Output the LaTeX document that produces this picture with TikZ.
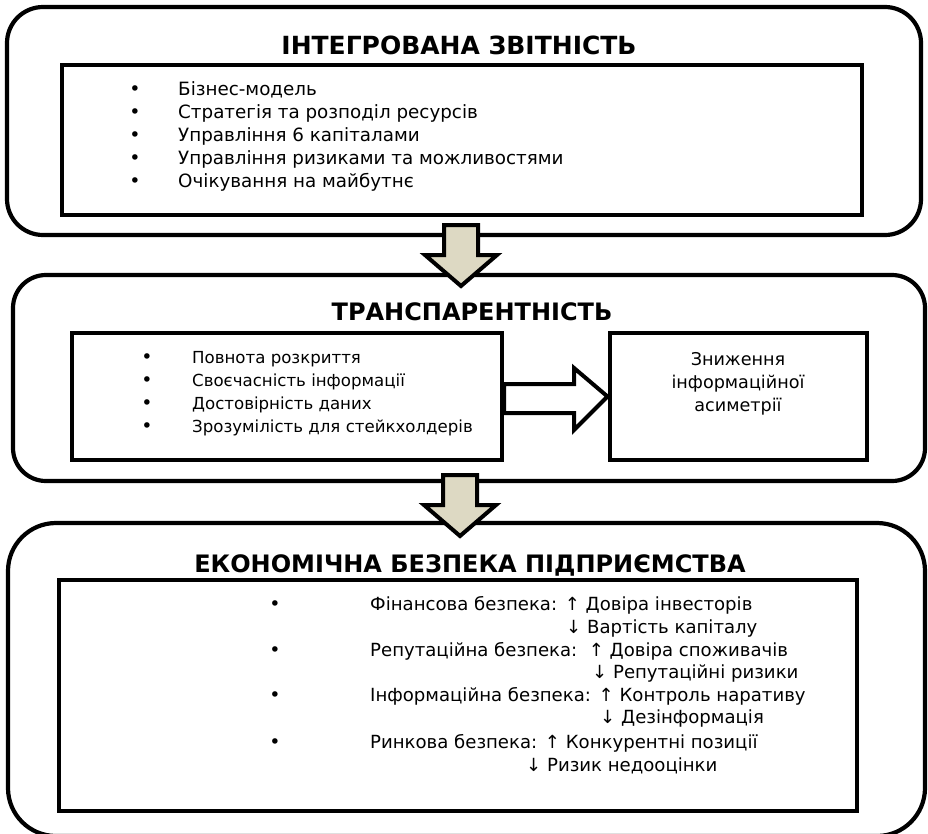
\documentclass[tikz,border=0pt]{standalone}
\usepackage{fontspec}
\setmainfont{DejaVu Sans}
\usetikzlibrary{calc}
\definecolor{arrowfill}{HTML}{DDD9C3}
\begin{document}
\begin{tikzpicture}[x=1pt,y=-1pt,
  outerbox/.style={draw=black,line width=4.2pt,fill=white},
  innerbox/.style={draw=black,line width=4pt,fill=white},
  blockarrow/.style={draw=black,line width=4pt,fill=arrowfill,line join=miter,miter limit=10},
  sidearrow/.style={draw=black,line width=4pt,fill=white,line join=miter,miter limit=10},
  ttl/.style={font=\fontsize{24}{28}\selectfont\bfseries,anchor=base,inner sep=0pt},
  txta/.style={font=\fontsize{18.3}{22}\selectfont,anchor=base west,inner sep=0pt},
  txtb/.style={font=\fontsize{16.6}{20}\selectfont,anchor=base west,inner sep=0pt},
  ctxt/.style={font=\fontsize{17.6}{21}\selectfont,anchor=base,inner sep=0pt},
  txtc/.style={font=\fontsize{18.1}{21}\selectfont,anchor=base west,inner sep=0pt},
  bul/.style={font=\fontsize{19}{22}\selectfont,anchor=base,inner sep=0pt}]
\useasboundingbox (0,0) rectangle (928,833);
\begin{scope}
\clip (0,0) rectangle (928,833);
% outer boxes
\draw[outerbox,rounded corners=36pt] (7,7) rectangle (921,235);
\draw[outerbox,rounded corners=33pt] (13,275) rectangle (925,481);
\draw[outerbox,rounded corners=48pt] (8,523) rectangle (925,836);
% inner boxes
\node[innerbox,minimum width=800pt,minimum height=150pt,inner sep=0pt] (ib1) at (462,140) {};
\node[innerbox,minimum width=430pt,minimum height=127pt,inner sep=0pt] (ib2l) at (287,396) {};
\node[innerbox,minimum width=257pt,minimum height=127pt,inner sep=0pt] (ib2r) at (738,396.5) {};
\node[innerbox,minimum width=798pt,minimum height=231pt,inner sep=0pt] (ib3) at (458,695) {};
\end{scope}
% titles
\node[ttl,font=\fontsize{25}{29}\selectfont\bfseries] (t1) at (459,54) {ІНТЕГРОВАНА ЗВІТНІСТЬ};
\node[ttl] (t2) at (472,320) {ТРАНСПАРЕНТНІСТЬ};
\node[ttl] (t3) at (470,572) {ЕКОНОМІЧНА БЕЗПЕКА ПІДПРИЄМСТВА};
% box 1 list
\foreach \y/\t [count=\i] in {95/Бізнес-модель,118/Стратегія та розподіл ресурсів,141/Управління 6 капіталами,164/Управління ризиками та можливостями,187/Очікування на майбутнє}{
  \node[bul] (b1\i) at (135,\y) {•};
  \node[txta] (l1\i) at (178,\y) {\t};
}
% box 2 left list
\foreach \y/\t [count=\i] in {363/Повнота розкриття,386/Своєчасність інформації,409/Достовірність даних,432/Зрозумілість для стейкхолдерів}{
  \node[bul] (b2\i) at (147,\y) {•};
  \node[txtb] (l2\i) at (192,\y) {\t};
}
% box 2 right text
\node[ctxt] (r1) at (738,365) {Зниження};
\node[ctxt] (r2) at (738,388) {інформаційної};
\node[ctxt] (r3) at (738,411) {асиметрії};
% box 3 list
\foreach \y [count=\i] in {610,656,701,748}{
  \node[bul] (b3\i) at (275,\y) {•};
}
\node[txtc] (e1) at (370,610) {Фінансова безпека: ↑ Довіра інвесторів};
\node[txtc] (e2) at (566,633) {↓ Вартість капіталу};
\node[txtc] (e3) at (370,656) {Репутаційна безпека:\ \ ↑ Довіра споживачів};
\node[txtc] (e4) at (592,678) {↓ Репутаційні ризики};
\node[txtc] (e5) at (370,701) {Інформаційна безпека: ↑ Контроль наративу};
\node[txtc] (e6) at (600,723) {↓ Дезінформація};
\node[txtc] (e7) at (370,748) {Ринкова безпека: ↑ Конкурентні позиції};
\node[txtc] (e8) at (526,771) {↓ Ризик недооцінки};
% block arrows
\draw[blockarrow] (444,225) -- (478,225) -- (478,255) -- (497,255) -- (461,286) -- (425,255) -- (444,255) -- cycle;
\draw[blockarrow] (443,475) -- (477,475) -- (477,505) -- (496,505) -- (460,536) -- (424,505) -- (443,505) -- cycle;
\draw[sidearrow] (504,384) -- (574,384) -- (574,368) -- (ib2r.west) -- (574,430) -- (574,413) -- (504,413) -- cycle;
\end{tikzpicture}
\end{document}
